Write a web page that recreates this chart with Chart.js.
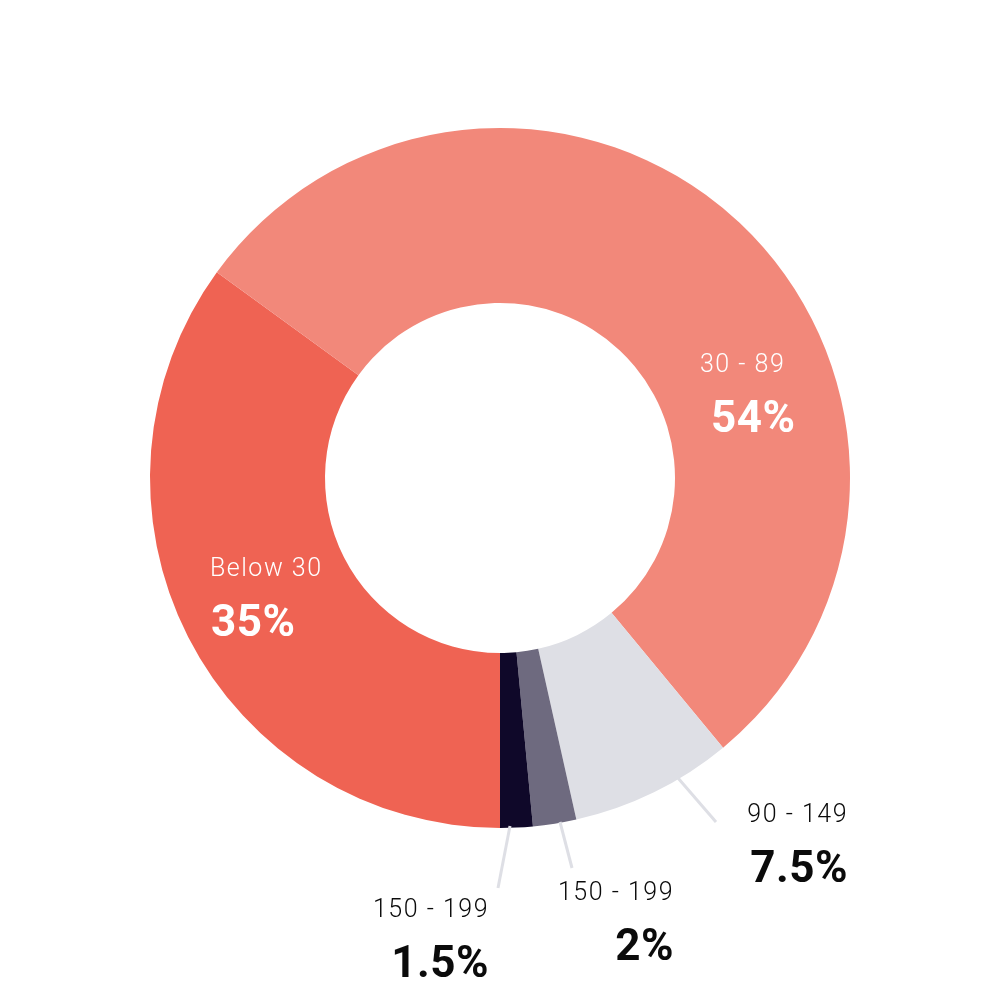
<!DOCTYPE html>
<html>
<head>
<meta charset="utf-8">
<title>Doughnut</title>
<script src="https://cdn.jsdelivr.net/npm/chart.js@4.4.1/dist/chart.umd.min.js"></script>
<style>
  html, body { margin: 0; padding: 0; background: #fff; }
  #wrap { width: 1000px; height: 1000px; position: relative; }
</style>
</head>
<body>
<div id="wrap"><canvas id="chart" width="1000" height="1000"></canvas></div>
<script>
const labels = ['Below 30', '30 - 89', '90 - 149', '150 - 199', '150 - 199'];
const values = [35, 54, 7.5, 2, 1.5];
const valueText = ['35%', '54%', '7.5%', '2%', '1.5%'];
const colors = ['#EF6353', '#F2887A', '#DEDFE5', '#6E6A7F', '#0F0829'];

// label placement relative to chart centre; leader = draw a line from the arc edge
const labelLayout = [
  { x: -290, y: 98,  align: 'left',  color: '#fff', vdx: 1,  leader: false },
  { x: 200,  y: -106, align: 'left', color: '#fff', vdx: 11, leader: false },
  { x: 348,  y: 344, align: 'right', color: '#0b0b0b', vdx: 0, leader: [[178, 300], [216, 344]] },
  { x: 174,  y: 422, align: 'right', color: '#0b0b0b', vdx: 0, leader: [[60, 344], [72, 390]] },
  { x: -11,  y: 439, align: 'right', color: '#0b0b0b', vdx: 0, leader: [[10, 348], [-2, 410]] }
];

const labelPlugin = {
  id: 'sliceLabels',
  afterDraw(chart) {
    const ctx = chart.ctx;
    const arc = chart.getDatasetMeta(0).data[0];
    const cx = arc.x, cy = arc.y;
    ctx.save();
    labelLayout.forEach((l, i) => {
      if (l.leader) {
        ctx.strokeStyle = '#DEDFE5';
        ctx.lineWidth = 3;
        ctx.beginPath();
        ctx.moveTo(cx + l.leader[0][0], cy + l.leader[0][1]);
        ctx.lineTo(cx + l.leader[1][0], cy + l.leader[1][1]);
        ctx.stroke();
      }
      ctx.fillStyle = l.color;
      ctx.textAlign = l.align;
      ctx.textBaseline = 'alphabetic';
      ctx.letterSpacing = '1.5px';
      ctx.font = '300 25px Roboto, "DejaVu Sans", sans-serif';
      ctx.fillText(labels[i], cx + l.x, cy + l.y);
      ctx.letterSpacing = '0.5px';
      ctx.font = 'bold 44px Roboto, "DejaVu Sans", sans-serif';
      ctx.fillText(valueText[i], cx + l.x + l.vdx, cy + l.y + 60);
    });
    ctx.restore();
  }
};

new Chart(document.getElementById('chart'), {
  type: 'doughnut',
  data: {
    labels: labels,
    datasets: [{
      data: values,
      backgroundColor: colors,
      borderWidth: 0
    }]
  },
  options: {
    responsive: false,
    animation: false,
    rotation: 180,
    cutout: '50%',
    layout: { padding: { top: 128, bottom: 172, left: 150, right: 150 } },
    plugins: { legend: { display: false }, tooltip: { enabled: false } }
  },
  plugins: [labelPlugin]
});
</script>
</body>
</html>
